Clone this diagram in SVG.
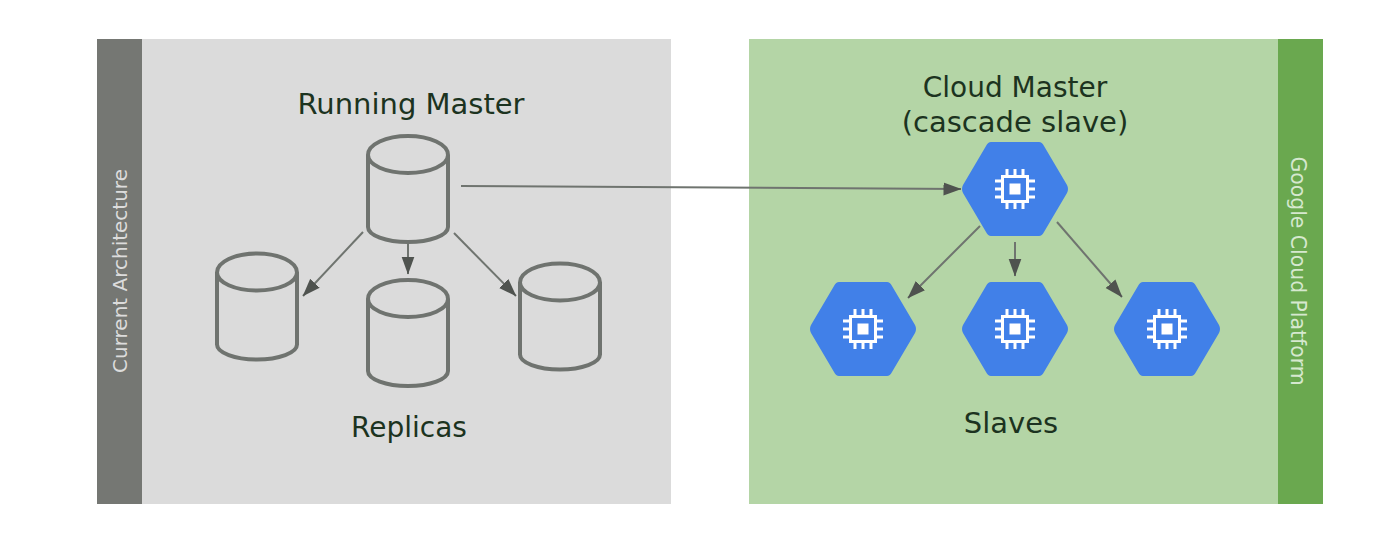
<svg xmlns="http://www.w3.org/2000/svg" width="1400" height="551" viewBox="0 0 1400 551">
<defs>
<style>
.lbl{font-family:"DejaVu Sans",sans-serif;font-size:28px;fill:#1c3320;text-anchor:middle}
.side{font-family:"DejaVu Sans",sans-serif;font-size:20px;text-anchor:middle}
.cyl{fill:none;stroke:#6f736f;stroke-width:4}
.con{fill:none;stroke:#6f746f;stroke-width:2;marker-end:url(#arr)}
.hex{fill:#4180e8}
.chip{fill:none;stroke:#fff;stroke-width:3}
.core{fill:#fff}
</style>
<marker id="arr" markerUnits="userSpaceOnUse" markerWidth="18" markerHeight="14" refX="17.500" refY="7" orient="auto"><path d="M0 0.500L18 7L0 13.500Z" fill="#4f534f"/></marker>
<symbol id="c" overflow="visible"><path class="cyl" d="M-40-34A40 19 0 0 1 40-34V38A40 15 0 0 1-40 38ZM-40-34A40 18 0 0 0 40-34"/></symbol>
<g id="h">
<path class="hex" d="M-24-47H24Q27-47 29-43L52-4Q54 0 52 4L29 43Q27 47 24 47H-24Q-27 47-29 43L-52 4Q-54 0-52-4L-29-43Q-27-47-24-47Z"/>
<rect class="chip" x="-12.500" y="-12.500" width="25" height="25"/>
<rect class="core" x="-5.500" y="-5.500" width="11" height="11"/>
<path class="chip" d="M-8-20V-13M0-20V-13M8-20V-13M-8 13V20M0 13V20M8 13V20M-20-8H-13M-20 0H-13M-20 8H-13M13-8H20M13 0H20M13 8H20"/>
</g>
</defs>
<rect width="1400" height="551" fill="#fff"/>
<g id="current-architecture">
<rect x="97" y="39" width="574" height="465" fill="#dbdbdb"/>
<rect x="97" y="39" width="45" height="465" fill="#757773"/>
<text class="side" transform="translate(127 271) rotate(-90)" fill="#dcdcdc">Current Architecture</text>
</g>
<g id="google-cloud-platform">
<rect x="749" y="39" width="574" height="465" fill="#b4d5a6"/>
<rect x="1278" y="39" width="45" height="465" fill="#6aa84f"/>
<text class="side" transform="translate(1291 271) rotate(90)" fill="#d6e8cf" style="font-size:20.400px">Google Cloud Platform</text>
</g>
<g id="running-master"><use href="#c" x="408" y="189"/><text class="lbl" x="411" y="114" style="font-size:29px">Running Master</text></g>
<g id="replica-1"><use href="#c" x="257" y="306.500"/></g>
<g id="replica-2"><use href="#c" x="408" y="333"/></g>
<g id="replica-3"><use href="#c" x="560" y="316.500"/></g>
<text id="replicas" class="lbl" x="409" y="437">Replicas</text>
<g id="cloud-master"><use href="#h" x="1015" y="189"/><text class="lbl" x="1015" y="97">Cloud Master</text><text class="lbl" x="1015" y="132" style="font-size:29px">(cascade slave)</text></g>
<g id="slave-1"><use href="#h" x="863" y="329"/></g>
<g id="slave-2"><use href="#h" x="1015" y="329"/></g>
<g id="slave-3"><use href="#h" x="1167" y="329"/></g>
<text id="slaves" class="lbl" x="1011" y="433" style="font-size:29px">Slaves</text>
<g id="connectors">
<path class="con" d="M461 186L961 189"/>
<path class="con" d="M363 232L303 296"/>
<path class="con" d="M408 244V274"/>
<path class="con" d="M454 233L516 296"/>
<path class="con" d="M980 226L908 298"/>
<path class="con" d="M1015 242V276"/>
<path class="con" d="M1057 222L1122 297"/>
</g>
</svg>
